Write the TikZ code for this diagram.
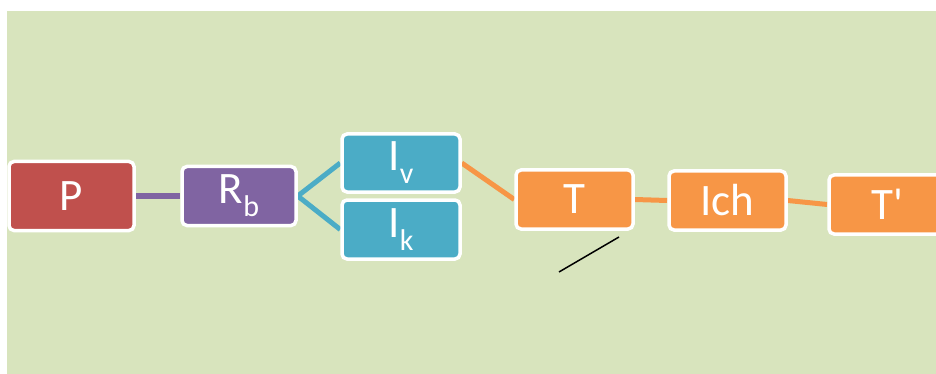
\documentclass[tikz,border=0pt]{standalone}
\usepackage{fontspec}
\setmainfont{Carlito}
\newfontfamily\plainfont{Carlito}
\usetikzlibrary{backgrounds}
\pgfdeclarelayer{edges}
\pgfsetlayers{background,edges,main}
\definecolor{bggreen}{HTML}{D8E4BD}
\definecolor{cred}{HTML}{C0504D}
\definecolor{cpurple}{HTML}{8064A2}
\definecolor{cteal}{HTML}{4BACC6}
\definecolor{corange}{HTML}{F79646}
\newcommand{\subtxt}[1]{\raisebox{-13pt}{\fontsize{30}{33}\selectfont #1}}
\tikzset{
  box/.style={draw=white, line width=3.5pt, rounded corners=5pt, text=white,
    inner sep=0pt, font=\fontsize{45}{52}\selectfont},
  link/.style={line width=5pt}
}
\begin{document}
\begin{tikzpicture}[x=1pt,y=-1pt]
\useasboundingbox (0,0) rectangle (936,374);
\begin{pgfonlayer}{background}
\fill[bggreen] (7,11) rectangle (936,374);
\end{pgfonlayer}
\node[box, fill=cred, minimum width=125pt, minimum height=69pt] (P) at (71.5,196) {P};
\node[box, fill=cpurple, minimum width=114pt, minimum height=59pt] (Rb) at (239,196) {R\subtxt{b}};
\node[box, fill=cteal, minimum width=118pt, minimum height=58pt] (Iv) at (401,163) {I\subtxt{v}};
\node[box, fill=cteal, minimum width=118pt, minimum height=59pt] (Ik) at (401,229.5) {I\subtxt{k}};
\node[box, fill=corange, minimum width=117pt, minimum height=59pt] (T) at (574.5,199.5) {T};
\node[box, fill=corange, minimum width=117pt, minimum height=59pt] (Ich) at (727.5,200.5) {Ich};
\node[box, fill=corange, minimum width=117pt, minimum height=59pt] (Tp) at (887.5,204.5) {\plainfont T'};
\begin{pgfonlayer}{edges}
\draw[link, line width=6pt, cpurple] (P.east) -- (Rb.west);
\draw[link, cteal] (Rb.east) -- (Iv.west);
\draw[link, cteal] (Rb.east) -- (Ik.west);
\draw[link, corange] (Iv.east) -- (T.west);
\draw[link, corange] (T.east) -- (Ich.west);
\draw[link, corange] (Ich.east) -- (Tp.west);
\end{pgfonlayer}
\coordinate (s1) at (559,272);
\coordinate (s2) at (619,237);
\draw[black, line width=1.5pt] (s1) -- (s2);
\end{tikzpicture}
\end{document}
